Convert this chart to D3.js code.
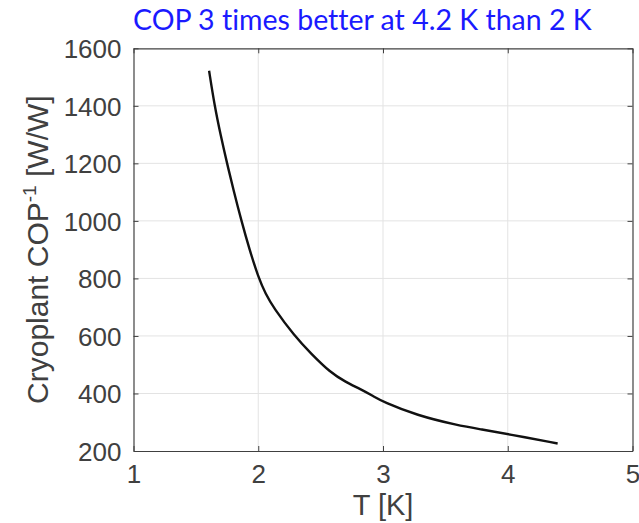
<!DOCTYPE html>
<html><head><meta charset="utf-8">
<script src="https://cdn.jsdelivr.net/npm/d3@7"></script>
<style>html,body{margin:0;padding:0;background:#fff;}svg{display:block;}</style>
</head><body>
<svg id="c" width="639" height="523"></svg>
<script>
const temperature = [1.606, 1.65, 1.70, 1.75, 1.80, 1.865, 1.93, 2.0, 2.06, 2.12, 2.29, 2.42, 2.58, 2.70, 2.82, 2.925, 3.0, 3.27, 3.6, 3.79, 4.0, 4.4];
const copInverse  = [1522, 1400, 1295, 1200, 1110, 1000, 900, 805, 745, 700, 600, 540, 472, 440, 415, 390, 371, 324, 289, 275, 259, 226];
const xTicks = [1, 2, 3, 4, 5];
const yTicks = [200, 400, 600, 800, 1000, 1200, 1400, 1600];
const titleText = "COP 3 times better at 4.2 K than 2 K";

const svg = d3.select("#c");
const m = {l: 133.5, r: 632.5, t: 48.3, b: 451};
const x = d3.scaleLinear().domain([1, 5]).range([m.l, m.r]);
const y = d3.scaleLinear().domain([200, 1600]).range([m.b, m.t]);
const axisColor = "#404040";
const font = "'Liberation Sans', Arial, sans-serif";

// grid
svg.append("g").selectAll("line.gx").data(xTicks.slice(1, -1)).join("line")
  .attr("x1", d => x(d)).attr("x2", d => x(d)).attr("y1", m.t).attr("y2", m.b)
  .attr("stroke", "#e3e3e3").attr("stroke-width", 1);
svg.append("g").selectAll("line.gy").data(yTicks.slice(1, -1)).join("line")
  .attr("x1", m.l).attr("x2", m.r).attr("y1", d => y(d)).attr("y2", d => y(d))
  .attr("stroke", "#e3e3e3").attr("stroke-width", 1);

// axes
const xb = svg.append("g").attr("transform", `translate(0,${m.b})`)
  .call(d3.axisBottom(x).tickValues(xTicks).tickFormat(d3.format("d")).tickSizeInner(-5).tickSizeOuter(0).tickPadding(14));
const xt = svg.append("g").attr("transform", `translate(0,${m.t})`)
  .call(d3.axisTop(x).tickValues(xTicks).tickFormat("").tickSizeInner(-5).tickSizeOuter(0));
const yl = svg.append("g").attr("transform", `translate(${m.l},0)`)
  .call(d3.axisLeft(y).tickValues(yTicks).tickFormat(d3.format("d")).tickSizeInner(-5).tickSizeOuter(0).tickPadding(12));
const yr = svg.append("g").attr("transform", `translate(${m.r},0)`)
  .call(d3.axisRight(y).tickValues(yTicks).tickFormat("").tickSizeInner(-5).tickSizeOuter(0));
[xb, xt, yl, yr].forEach(g => {
  g.select(".domain").attr("stroke", axisColor).attr("stroke-width", 1.2);
  g.selectAll(".tick line").attr("stroke", axisColor);
  g.selectAll(".tick text").attr("fill", axisColor).attr("font-family", font).attr("font-size", 26);
});
xb.selectAll(".tick text").attr("dy", "0.71em");
yl.selectAll(".tick text").attr("dy", "0.36em");

// line
svg.append("path")
  .datum(temperature.map((t, i) => [t, copInverse[i]]))
  .attr("fill", "none").attr("stroke", "#111").attr("stroke-width", 2.4)
  .attr("stroke-linejoin", "round").attr("stroke-linecap", "butt")
  .attr("d", d3.line().x(d => x(d[0])).y(d => y(d[1])).curve(d3.curveBasis));

// x label
svg.append("text").attr("x", (m.l + m.r) / 2).attr("y", 515)
  .attr("text-anchor", "middle").attr("font-family", font).attr("font-size", 29)
  .attr("fill", axisColor).text("T [K]");

// y label
const ylab = svg.append("text").attr("transform", `translate(48,${(m.t + m.b) / 2}) rotate(-90)`)
  .attr("text-anchor", "middle").attr("font-family", font).attr("font-size", 30).attr("fill", axisColor);
ylab.append("tspan").text("Cryoplant COP");
ylab.append("tspan").attr("font-size", 19).attr("dy", -12).text("-1");
ylab.append("tspan").attr("dy", 12).text(" [W/W]");

// title
const title = svg.append("text").attr("x", 133).attr("y", 30)
  .attr("font-family", "Lato, 'Open Sans', sans-serif").attr("font-size", 28)
  .style("font-variant-ligatures", "none").style("font-feature-settings", "'liga' 0")
  .attr("fill", "#1a1aff").text(titleText);
const w = title.node().getComputedTextLength();
title.attr("font-size", 28 * 459 / w);
</script>
</body></html>
